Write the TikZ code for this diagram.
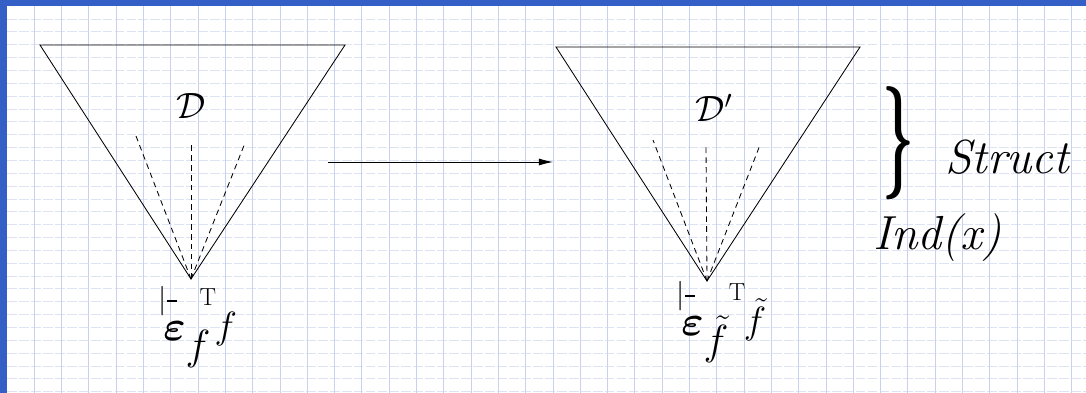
\RequirePackage{fix-cm}
\documentclass[tikz,border=0pt]{standalone}
\usepackage{amsmath}
\usepackage{graphicx}
\usepackage{tikz}
\usetikzlibrary{arrows.meta,positioning}
\definecolor{FrameBlue}{HTML}{335FC6}
\definecolor{GridMajor}{HTML}{C9D1EF}
\definecolor{GridMinor}{HTML}{DEE3F4}
% bar, epsilon and T with the map's index
\newcommand{\entsym}[2]{%
  \raisebox{23pt}{\resizebox*{!}{21pt}{$\vert$}}\kern-2.5pt
  \rlap{\raisebox{27.7pt}{\kern3pt\rule{7pt}{1.2pt}}}%
  $\boldsymbol{\varepsilon}$%
  \rlap{\raisebox{-13.5pt}{$#1$}}\kern#2
  \raisebox{25pt}{\resizebox{!}{12pt}{$\mathrm{T}$}}\kern-1pt
  \raisebox{1.4pt}{\scalebox{0.9}{$#1$}}}

\begin{document}
\begin{tikzpicture}[x=0.025cm,y=-0.025cm,
    cone/.style={line width=0.6pt},
    ray/.style={line width=0.6pt,dash pattern=on 4pt off 3pt},
    domlabel/.style={inner sep=0pt,font=\fontsize{26}{28}\selectfont},
    entlabel/.style={inner sep=0pt,anchor=north west,font=\fontsize{30}{32}\selectfont},
    sidetext/.style={inner sep=0pt,font=\fontsize{34}{36}\selectfont\itshape}]
    % squared paper with the blue frame
    \useasboundingbox (0,0) rectangle (1086,393);
    \fill[white] (0,0) rectangle (1086,393);
    \foreach \gy in {1,...,30}
        \draw[GridMinor,line width=0.6pt,dash pattern=on 7pt off 1.5pt] (7,{6.2+12.85*\gy}) -- (1086,{6.2+12.85*\gy});
    \foreach \gx in {1,...,39}
        \draw[GridMajor,line width=0.6pt] ({7+27.3*\gx},6) -- ({7+27.3*\gx},393);
    \fill[FrameBlue] (0,0) rectangle (1086,6);
    \fill[FrameBlue] (0,0) rectangle (7,393);

    % left cone
    \coordinate (tlL) at (40,45);
    \coordinate (trL) at (345,45);
    \coordinate (apL) at (191,279);
    \draw[cone] (tlL) -- (trL) -- (apL) -- cycle;
    \foreach \dx/\dy in {-55/-143,0/-134,54/-136}
        \draw[ray] (apL) -- ++(\dx,\dy);
    \node[domlabel] (domL) at (191,106) {$\mathcal{D}$};
    \node[entlabel] (entL) at ([shift={(-32.7,7)}]apL) {\entsym{f}{10pt}};

    % right cone
    \coordinate (tlR) at (556,47);
    \coordinate (trR) at (860,47);
    \coordinate (apR) at (707,281);
    \draw[cone] (tlR) -- (trR) -- (apR) -- cycle;
    \foreach \dx/\dy in {-54/-141,-1/-135,53/-136}
        \draw[ray] (apR) -- ++(\dx,\dy);
    \node[domlabel] (domR) at (714,108) {$\mathcal{D}'$};
    \node[entlabel] (entR) at ([shift={(-30.7,0)}]apR) {\entsym{\tilde{f}}{18pt}};

    % the map between the two
    \coordinate (mapS) at (328,162);
    \coordinate (mapT) at (553,162);
    \draw[line width=0.6pt,-{Latex[length=10pt,width=5pt]}] (mapS) -- (mapT);

    % side notes
    \node[inner sep=0pt] (brace) at (899,143) {\resizebox*{0.8cm}{2.83cm}{$\boldsymbol{\}}$}};
    \node[sidetext,anchor=west] (struct) at (945,157) {Struct};
    \node[sidetext,anchor=west] (ind) at (873,238) {Ind(x)};
\end{tikzpicture}
\end{document}
